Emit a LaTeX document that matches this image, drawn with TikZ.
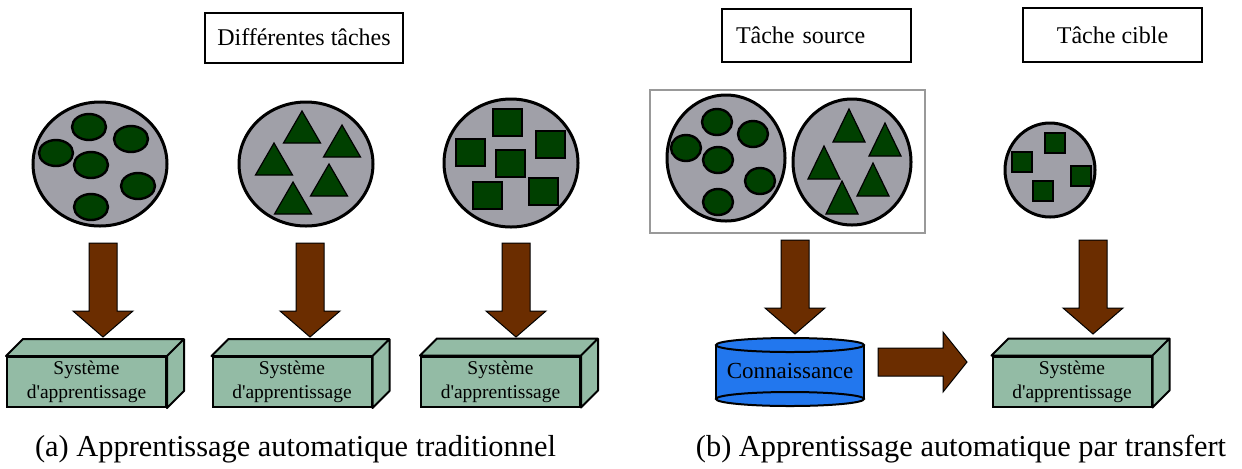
\documentclass[tikz,border=0pt]{standalone}
\usepackage{fontspec}
\setmainfont{Liberation Serif}
\usepackage{tikz}
\usetikzlibrary{positioning, calc}
\definecolor{notegris}{RGB}{160, 160, 168}
\definecolor{notevert}{RGB}{0, 64, 0}
\definecolor{notebrun}{RGB}{107, 45, 0}
\definecolor{notesys}{RGB}{147, 187, 165}
\definecolor{notebleu}{RGB}{34, 119, 238}

\tikzset{
  tache/.style={draw, line width=1pt, fill=white, inner sep=0pt, minimum height=25pt, font=\fontsize{12}{14}\selectfont},
  systeme/.style={draw, line width=1pt, fill=notesys, inner sep=0pt, minimum width=79.5pt, minimum height=25pt, align=center, font=\fontsize{9.75}{12}\selectfont},
  boite/.style={draw, line width=1pt, fill=notesys, line join=round},
  disque/.style={draw, line width=1.5pt, fill=notegris},
  pion/.style={draw, line width=1.2pt, fill=notevert},
  piece/.style={draw, line width=0.6pt, fill=notevert},
  fleche/.style={draw, line width=0.5pt, fill=notebrun},
  legende/.style={font=\fontsize{15.2}{18}\selectfont}
}

\begin{document}
\begin{tikzpicture}[x=0.5pt, y=-0.5pt]
    \useasboundingbox (0,0) rectangle (1242,468);

    % Titres des taches
    \node[tache, minimum width=99pt] (titre) at (304,37.5) {Différentes tâches};
    \node[tache, minimum height=26.5pt, text width=80.5pt, inner xsep=7pt, align=left] (source) at (816.5,35.5) {Tâche source};
    \node[tache, minimum width=89.5pt, minimum height=27pt] (cible) at (1112.5,35) {Tâche cible};

    % (a) Ensemble de cercles
    \draw[disque] (100,164) ellipse (67 and 62);
    \draw[pion] (89,127) ellipse (17 and 13);
    \draw[pion] (131,139) ellipse (17 and 13);
    \draw[pion] (56,153) ellipse (17 and 13);
    \draw[pion] (91,165) ellipse (17 and 13);
    \draw[pion] (138,186) ellipse (17 and 13);
    \draw[pion] (91,207) ellipse (17 and 13);

    % (a) Ensemble de triangles
    \draw[disque] (306,164) ellipse (67 and 62);
    \draw[piece] (302,111) -- ++(18.5,32) -- ++(-37,0) -- cycle;
    \draw[piece] (342,125) -- ++(18.5,32) -- ++(-37,0) -- cycle;
    \draw[piece] (274,143) -- ++(18.5,32) -- ++(-37,0) -- cycle;
    \draw[piece] (329,164) -- ++(18.5,32) -- ++(-37,0) -- cycle;
    \draw[piece] (293,182) -- ++(18.5,32) -- ++(-37,0) -- cycle;

    % (a) Ensemble de carres
    \draw[disque] (511,163) ellipse (67 and 64);
    \draw[piece] (493,109) rectangle ++(29,27);
    \draw[piece] (456,139) rectangle ++(29,27);
    \draw[piece] (536,131) rectangle ++(29,27);
    \draw[piece] (496,150) rectangle ++(29,27);
    \draw[piece] (473,182) rectangle ++(29,27);
    \draw[piece] (529,178) rectangle ++(29,27);

    % (b) Domaine source
    \draw[gray!80, line width=1pt] (650,90) rectangle (925,233);
    \draw[disque] (726,158) ellipse (59 and 63);
    \draw[pion] (717,122) ellipse (15 and 13);
    \draw[pion] (753,134) ellipse (15 and 13);
    \draw[pion] (686,148) ellipse (15 and 13);
    \draw[pion] (718,160) ellipse (15 and 13);
    \draw[pion] (760,181) ellipse (15 and 13);
    \draw[pion] (718,202) ellipse (15 and 13);
    \draw[disque] (852,162) ellipse (59 and 63);
    \draw[piece] (849,109) -- ++(16,33) -- ++(-32,0) -- cycle;
    \draw[piece] (885,123) -- ++(16,33) -- ++(-32,0) -- cycle;
    \draw[piece] (824,146) -- ++(16,33) -- ++(-32,0) -- cycle;
    \draw[piece] (873,163) -- ++(16,33) -- ++(-32,0) -- cycle;
    \draw[piece] (842,181) -- ++(16,33) -- ++(-32,0) -- cycle;

    % (b) Domaine cible
    \draw[disque] (1050,170) ellipse (45 and 47);
    \draw[piece] (1045,133) rectangle ++(20,20);
    \draw[piece] (1012,152) rectangle ++(20,20);
    \draw[piece] (1071,166) rectangle ++(20,20);
    \draw[piece] (1033,181) rectangle ++(20,20);

    % Fleches vers le bas
    \draw[fleche] (89,243) -- ++(28,0) -- ++(0,68) -- ++(16,0) -- ++(-30,26) -- ++(-30,-26) -- ++(16,0) -- cycle;
    \draw[fleche] (296,243) -- ++(28,0) -- ++(0,68) -- ++(16,0) -- ++(-30,26) -- ++(-30,-26) -- ++(16,0) -- cycle;
    \draw[fleche] (502,243) -- ++(28,0) -- ++(0,68) -- ++(16,0) -- ++(-30,26) -- ++(-30,-26) -- ++(16,0) -- cycle;
    \draw[fleche] (781,240) -- ++(28,0) -- ++(0,68) -- ++(16,0) -- ++(-30,26) -- ++(-30,-26) -- ++(16,0) -- cycle;
    \draw[fleche] (1079,240) -- ++(28,0) -- ++(0,68) -- ++(16,0) -- ++(-30,26) -- ++(-30,-26) -- ++(16,0) -- cycle;

    % Systemes d'apprentissage
    \node[systeme] (sys1) at (86.5,382) {Système\\d\textquotesingle apprentissage};
    \node[systeme] (sys2) at (292,382) {Système\\d\textquotesingle apprentissage};
    \node[systeme] (sys3) at (500.5,381.5) {Système\\d\textquotesingle apprentissage};
    \node[systeme] (sys4) at (1072,381.5) {Système\\d\textquotesingle apprentissage};
    \draw[boite] (sys1.north west) -- ++(17,-17) -- ([shift={(17,-17)}]sys1.north east) -- ([shift={(17,-17)}]sys1.south east) -- (sys1.south east) -- (sys1.north east) -- cycle (sys1.north east) -- ++(17,-17);
    \draw[boite] (sys2.north west) -- ++(17,-17) -- ([shift={(17,-17)}]sys2.north east) -- ([shift={(17,-17)}]sys2.south east) -- (sys2.south east) -- (sys2.north east) -- cycle (sys2.north east) -- ++(17,-17);
    \draw[boite] (sys3.north west) -- ++(17,-17) -- ([shift={(17,-17)}]sys3.north east) -- ([shift={(17,-17)}]sys3.south east) -- (sys3.south east) -- (sys3.north east) -- cycle (sys3.north east) -- ++(17,-17);
    \draw[boite] (sys4.north west) -- ++(17,-17) -- ([shift={(17,-17)}]sys4.north east) -- ([shift={(17,-17)}]sys4.south east) -- (sys4.south east) -- (sys4.north east) -- cycle (sys4.north east) -- ++(17,-17);

    % Base de connaissance
    \fill[notebleu] (716,345) rectangle (864,399);
    \draw[line width=1pt, fill=notebleu] (790,399) ellipse (74 and 7);
    \draw[line width=1pt] (716,345) -- (716,399) (864,345) -- (864,399);
    \draw[line width=1pt, fill=notebleu] (790,345) ellipse (74 and 7);
    \node[font=\fontsize{11.5}{14}\selectfont] (connaissance) at (790,371) {Connaissance};

    % Transfert
    \draw[fleche] (878,348) -- (943,348) -- (943,332) -- (967,362) -- (943,392) -- (943,376) -- (878,376) -- cycle;

    % Legendes
    \node[legende] (legendeA) at (295.5,449) {(a) Apprentissage automatique traditionnel};
    \node[legende] (legendeB) at (961,449) {(b) Apprentissage automatique par transfert};
\end{tikzpicture}
\end{document}
